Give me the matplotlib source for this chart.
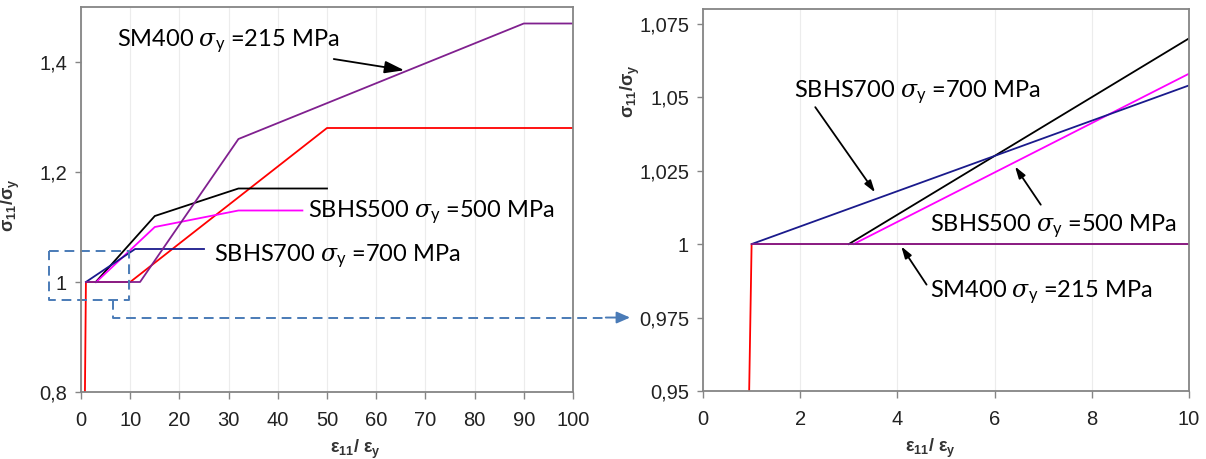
import matplotlib
matplotlib.use('Agg')
import matplotlib.pyplot as plt

# data (eps11/epsy , sigma11/sigmay)
red_x = [0, 1, 10, 50, 100]
red_y = [0, 1, 1, 1.28, 1.28]
black_x = [3, 15, 32, 50]
black_y = [1, 1.12, 1.17, 1.17]
magenta_x = [3.1, 15, 32, 45]
magenta_y = [1, 1.10, 1.13, 1.13]
blue_x = [1, 11, 25]
blue_y = [1, 1.06, 1.06]
purple_x = [1, 12, 32, 90, 100]
purple_y = [1, 1, 1.26, 1.47, 1.47]

left_xticks = [0, 10, 20, 30, 40, 50, 60, 70, 80, 90, 100]
left_yticks = [0.8, 1.0, 1.2, 1.4]
left_ylabels = ['0,8', '1', '1,2', '1,4']
right_xticks = [0, 2, 4, 6, 8, 10]
right_yticks = [0.95, 0.975, 1.0, 1.025, 1.05, 1.075]
right_ylabels = ['0,95', '0,975', '1', '1,025', '1,05', '1,075']

lab_sm400 = 'SM400 $\\sigma_{\\mathrm{y}}$ =215 MPa'
lab_500 = 'SBHS500 $\\sigma_{\\mathrm{y}}$ =500 MPa'
lab_700 = 'SBHS700 $\\sigma_{\\mathrm{y}}$ =700 MPa'
xlab = 'ε$_{\\mathbf{11}}$/ ε$_{\\mathbf{y}}$'
ylab = 'σ$_{\\mathbf{11}}$/σ$_{\\mathbf{y}}$'

plt.rcParams['font.family'] = ['Liberation Sans', 'DejaVu Sans']
plt.rcParams['mathtext.fontset'] = 'custom'
plt.rcParams['mathtext.rm'] = 'Lato'
plt.rcParams['mathtext.it'] = 'DejaVu Serif:italic'
plt.rcParams['mathtext.bf'] = 'Liberation Sans:bold'

grey = '#858585'
dashc = '#4a7bb7'
txtfont = dict(family='Lato', fontsize=17, color='black')
labfont = dict(fontsize=13, fontweight='bold', color='#333333')
arrow = dict(arrowstyle='-|>,head_length=0.7,head_width=0.22', color='black', lw=1.3,
             shrinkA=0, shrinkB=0)

fig = plt.figure(figsize=(12.06, 4.59), dpi=100)
ax1 = fig.add_axes([81 / 1206, 1 - 392 / 459, 492 / 1206, 385 / 459])
ax2 = fig.add_axes([703 / 1206, 1 - 391 / 459, 486 / 1206, 382 / 459])


def draw_curves(ax):
    ax.plot(red_x, red_y, color='#ff0000', lw=1.3)
    ax.plot(black_x, black_y, color='black', lw=1.3)
    ax.plot(magenta_x, magenta_y, color='#ff00ff', lw=1.3)
    ax.plot(blue_x, blue_y, color='#1a1a8c', lw=1.3)
    ax.plot(purple_x, purple_y, color='#80208f', lw=1.3)


def style(ax):
    for s in ax.spines.values():
        s.set_color(grey)
        s.set_linewidth(1.3)
    ax.tick_params(axis='both', colors=grey, labelcolor='#222222', labelsize=14.5,
                   direction='out', width=1.0)
    ax.tick_params(axis='x', length=5, pad=9)
    ax.tick_params(axis='y', length=4, pad=6)
    ax.grid(axis='x', color='#ececec', lw=0.8)
    ax.set_axisbelow(True)


draw_curves(ax1)
ax1.set_xlim(0, 100)
ax1.set_ylim(0.8, 1.5)
ax1.set_xticks(left_xticks)
ax1.set_yticks(left_yticks)
ax1.set_yticklabels(left_ylabels)
style(ax1)
ax1.set_xlabel(xlab, **labfont)
ax1.xaxis.set_label_coords(0.557, -0.12)
ax1.set_ylabel(ylab, **labfont)
ax1.yaxis.set_label_coords(-0.12, 0.485)

ax1.annotate(lab_sm400, xy=(65.7, 1.385), xytext=(52.5, 1.436), ha='right', va='center',
             arrowprops=arrow, **txtfont)
ax1.text(46.2, 1.125, lab_500, ha='left', va='center', **txtfont)
ax1.text(27.1, 1.046, lab_700, ha='left', va='center', **txtfont)

draw_curves(ax2)
ax2.set_xlim(0, 10)
ax2.set_ylim(0.95, 1.08)
ax2.set_xticks(right_xticks)
ax2.set_yticks(right_yticks)
ax2.set_yticklabels(right_ylabels)
style(ax2)
ax2.set_xlabel(xlab, **labfont)
ax2.xaxis.set_label_coords(0.468, -0.12)
ax2.set_ylabel(ylab, **labfont)
ax2.yaxis.set_label_coords(-0.125, 0.785)

ax2.text(1.88, 1.0516, lab_700, ha='left', va='center', **txtfont)
ax2.annotate('', xy=(3.54, 1.0176), xytext=(2.31, 1.0466), arrowprops=arrow)
ax2.text(4.67, 1.0057, lab_500, ha='left', va='center', **txtfont)
ax2.annotate('', xy=(6.42, 1.0264), xytext=(6.95, 1.0134), arrowprops=arrow)
ax2.text(4.67, 0.9835, lab_sm400, ha='left', va='center', **txtfont)
ax2.annotate('', xy=(4.08, 0.9992), xytext=(4.6, 0.9862), arrowprops=arrow)

# zoom box and dashed connector
ax1.plot([-6.6, 9.8, 9.8, -6.6, -6.6], [1.057, 1.057, 0.968, 0.968, 1.057],
         ls=(0, (5, 3)), color=dashc, lw=1.4, clip_on=False)
start = ax2.transData.transform((-1.95, 0.975))
start_l = ax1.transData.inverted().transform(start)
ax1.plot([6.5, 6.5, start_l[0]], [0.968, start_l[1], start_l[1]], ls=(0, (5, 3)),
         color=dashc, lw=1.4, clip_on=False)
ax2.annotate('', xy=(-1.5, 0.975), xytext=(-2.0, 0.975), annotation_clip=False,
             arrowprops=dict(arrowstyle='-|>,head_length=0.8,head_width=0.35',
                             color=dashc, lw=1.4, shrinkA=0, shrinkB=0))

fig.savefig('out.png', dpi=100)
